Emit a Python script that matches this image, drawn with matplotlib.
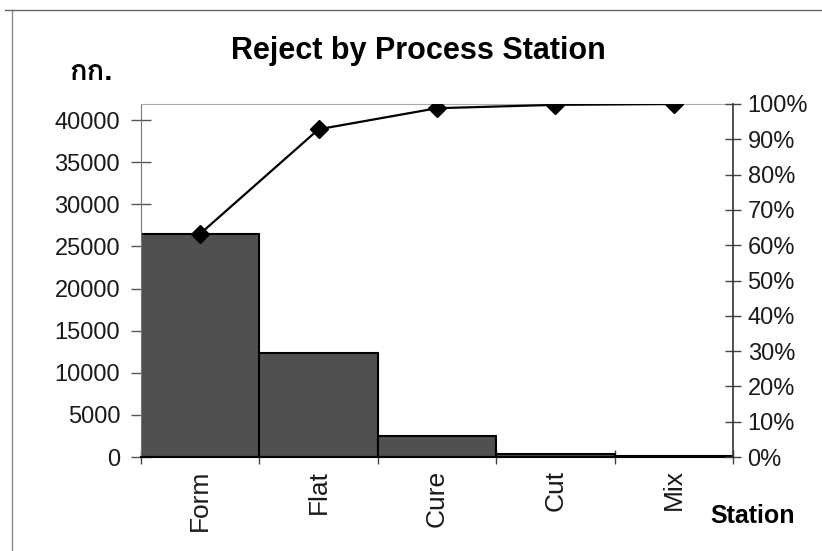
import matplotlib
matplotlib.use("Agg")
import matplotlib.pyplot as plt
import matplotlib.font_manager as fm
from matplotlib.ft2font import FT2Font
from matplotlib.lines import Line2D
import numpy as np

# Reject weight per process station (kg)
stations = ["Form", "Flat", "Cure", "Cut", "Mix"]
reject_kg = [26500, 12400, 2500, 400, 100]
left_ticks = [0, 5000, 10000, 15000, 20000, 25000, 30000, 35000, 40000]
right_ticks = [0.0, 0.1, 0.2, 0.3, 0.4, 0.5, 0.6, 0.7, 0.8, 0.9, 1.0]
unit_label = "กก."

total = sum(reject_kg)
cumulative = np.cumsum(reject_kg) / total


def family_with_char(ch):
    """Return an installed font family that has a glyph for ch (bold faces preferred)."""
    found = []
    for entry in fm.fontManager.ttflist:
        try:
            if ord(ch) in FT2Font(entry.fname).get_charmap():
                found.append(entry)
        except Exception:
            continue
    if not found:
        return None
    found.sort(key=lambda e: 0 if str(e.weight) in ("bold", "700") else 1)
    return found[0].name


fonts = ["Liberation Sans", "DejaVu Sans", "Noto Sans"]
thai = family_with_char("ก")
if thai is not None:
    fonts = fonts + [thai]
plt.rcParams["font.family"] = fonts

fig = plt.figure(figsize=(8.22, 5.51), dpi=100)
ax = fig.add_axes([141 / 822, 1 - 457 / 551, (733 - 141) / 822, (457 - 104) / 551])

x = np.arange(len(stations))
ax.bar(x, reject_kg, width=1.0, color="#505050", edgecolor="black", linewidth=1.5, zorder=2)
ax.set_xlim(-0.5, len(stations) - 0.5)
ax.set_ylim(0, total)
ax.set_yticks(left_ticks)
ax.set_yticklabels([str(v) for v in left_ticks], fontsize=17, color="#1a1a1a")
ax.tick_params(axis="y", direction="inout", length=14, width=1, color="#555555", pad=8)

# Category boundaries carry the ticks; names sit at the bar centres
ax.set_xticks(np.arange(len(stations) + 1) - 0.5)
ax.set_xticklabels([])
ax.tick_params(axis="x", which="major", direction="inout", length=10, width=1, color="#444444")
ax.set_xticks(x, minor=True)
ax.set_xticklabels(stations, minor=True, rotation=90, fontsize=19, color="#1a1a1a")
ax.tick_params(axis="x", which="minor", length=0, pad=9)

ax.spines["left"].set_color("#777777")
ax.spines["top"].set_color("#aaaaaa")
ax.spines["right"].set_visible(False)
ax.spines["bottom"].set_color("black")
ax.spines["bottom"].set_linewidth(1.5)

ax2 = ax.twinx()
ax2.plot(x, cumulative, color="black", linewidth=1.6, marker="D", markersize=9,
         markerfacecolor="black", markeredgecolor="black", zorder=3)
ax2.set_ylim(0, 1)
ax2.set_yticks(right_ticks)
ax2.set_yticklabels([f"{int(round(v * 100))}%" for v in right_ticks], fontsize=17, color="#1a1a1a")
ax2.tick_params(axis="y", direction="inout", length=11, width=1, color="#444444", pad=5)
for s in ("left", "top", "bottom"):
    ax2.spines[s].set_visible(False)
ax2.spines["right"].set_color("#333333")
ax2.spines["right"].set_linewidth(1.2)

fig.text(418 / 822, 1 - 51 / 551, "Reject by Process Station", ha="center", va="center",
         fontsize=22, fontweight="bold")
fig.text(69 / 822, 1 - 72 / 551, unit_label, ha="left", va="center", fontsize=21, fontweight="bold")
fig.text(710 / 822, 1 - 516 / 551, "Station", ha="left", va="center", fontsize=18, fontweight="bold")

# Page frame lines
fig.add_artist(Line2D([12 / 822, 12 / 822], [0, 1 - 10 / 551], transform=fig.transFigure,
                      color="#888888", linewidth=1))
fig.add_artist(Line2D([5 / 822, 1], [1 - 10 / 551, 1 - 10 / 551], transform=fig.transFigure,
                      color="#666666", linewidth=1))

fig.savefig("out.png", dpi=100)
